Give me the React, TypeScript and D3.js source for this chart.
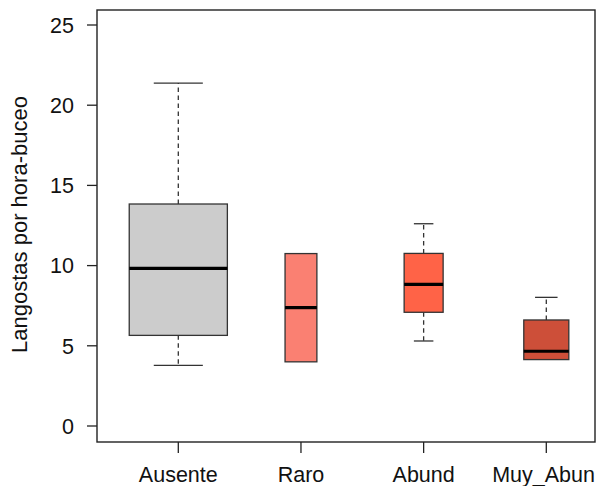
import * as d3 from 'd3';

// Boxplot statistics (Langostas por hora-buceo)
const categories = ['Ausente', 'Raro', 'Abund', 'Muy_Abun'];
const sampleSizes = [19, 2, 3, 4];
const lowerWhisker = [3.78, 4.0, 5.3, 4.14];
const lowerQuartile = [5.65, 4.0, 7.09, 4.14];
const medians = [9.83, 7.38, 8.83, 4.66];
const upperQuartile = [13.84, 10.75, 10.76, 6.61];
const upperWhisker = [21.38, 10.75, 12.61, 8.02];
const yTicks = [0, 5, 10, 15, 20, 25];

const fills = ['#cccccc', '#fa8072', '#ff6347', '#cd4f39'];

const W = 596;
const H = 486;
const frame = { left: 97, top: 10, right: 595, bottom: 442 };
const font = 'Arial, "Liberation Sans", sans-serif';
const labelSize = 21.5;

export default function App() {
    const x = d3.scaleLinear().domain([1, 4]).range([178.3, 546.3]);
    const unit = x(2) - x(1);
    const y = d3.scaleLinear().domain([0, 25]).range([426, 25]);

    const maxRoot = d3.max(sampleSizes, n => Math.sqrt(n)) ?? 1;
    const boxes = categories.map((c, i) => {
        const halfW = (0.8 * unit * Math.sqrt(sampleSizes[i]) / maxRoot) / 2;
        return {
            name: c,
            cx: x(i + 1),
            halfW,
            lw: lowerWhisker[i],
            q1: lowerQuartile[i],
            med: medians[i],
            q3: upperQuartile[i],
            uw: upperWhisker[i],
            fill: fills[i],
        };
    });

    // rough text width so the last label stays inside the page (as in the original)
    const approxWidth = (s: string) => s.length * labelSize * 0.6;

    return (
        <svg width={W} height={H} style={{ position: 'absolute', left: 0, top: 0, background: '#fff' }}>
            {boxes.map(b => (
                <g key={b.name}>
                    {/* whiskers */}
                    {b.uw > b.q3 && (
                        <>
                            <line x1={b.cx} x2={b.cx} y1={y(b.q3)} y2={y(b.uw)}
                                stroke="#333" strokeWidth={1.3} strokeDasharray="4.5,3.5" />
                            <line x1={b.cx - b.halfW / 2} x2={b.cx + b.halfW / 2} y1={y(b.uw)} y2={y(b.uw)}
                                stroke="#333" strokeWidth={1.3} />
                        </>
                    )}
                    {b.lw < b.q1 && (
                        <>
                            <line x1={b.cx} x2={b.cx} y1={y(b.q1)} y2={y(b.lw)}
                                stroke="#333" strokeWidth={1.3} strokeDasharray="4.5,3.5" />
                            <line x1={b.cx - b.halfW / 2} x2={b.cx + b.halfW / 2} y1={y(b.lw)} y2={y(b.lw)}
                                stroke="#333" strokeWidth={1.3} />
                        </>
                    )}
                    <rect x={b.cx - b.halfW} y={y(b.q3)} width={2 * b.halfW} height={y(b.q1) - y(b.q3)}
                        fill={b.fill} stroke="#333" strokeWidth={1.3} />
                    <line x1={b.cx - b.halfW} x2={b.cx + b.halfW} y1={y(b.med)} y2={y(b.med)}
                        stroke="#000" strokeWidth={3.2} />
                </g>
            ))}

            {/* plot frame */}
            <rect x={frame.left} y={frame.top} width={frame.right - frame.left} height={frame.bottom - frame.top}
                fill="none" stroke="#222" strokeWidth={1.4} />

            {/* y axis */}
            {yTicks.map(t => (
                <g key={t}>
                    <line x1={frame.left - 10} x2={frame.left} y1={y(t)} y2={y(t)} stroke="#222" strokeWidth={1.3} />
                    <text x={74} y={y(t)} dy="0.36em" textAnchor="end" fontFamily={font} fontSize={labelSize} fill="#111">
                        {t}
                    </text>
                </g>
            ))}

            {/* x axis */}
            {boxes.map(b => {
                const overflow = b.cx + approxWidth(b.name) / 2 > W - 1;
                return (
                    <g key={b.name}>
                        <line x1={b.cx} x2={b.cx} y1={frame.bottom} y2={frame.bottom + 11} stroke="#222" strokeWidth={1.3} />
                        <text x={overflow ? W - 1 : b.cx} y={482} textAnchor={overflow ? 'end' : 'middle'}
                            fontFamily={font} fontSize={labelSize} fill="#111">
                            {b.name}
                        </text>
                    </g>
                );
            })}

            <text transform={`translate(26.5, ${(93 + 356) / 2}) rotate(-90)`} textAnchor="middle"
                fontFamily={font} fontSize={22} fill="#111">
                Langostas por hora-buceo
            </text>
        </svg>
    );
}
